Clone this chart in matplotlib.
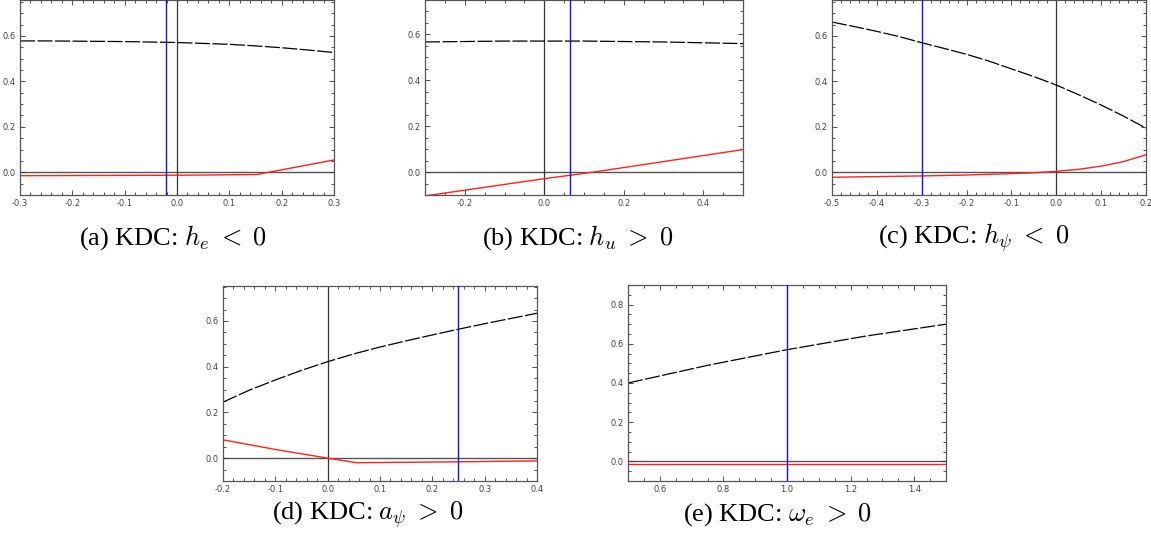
import matplotlib
matplotlib.use("Agg")
import matplotlib.pyplot as plt
from matplotlib.ticker import MultipleLocator, AutoMinorLocator, FormatStrFormatter

plt.rcParams['axes.unicode_minus'] = False
plt.rcParams['mathtext.fontset'] = 'cm'

# (a) h_e < 0
a_x = [-0.3, -0.25, -0.2, -0.15, -0.1, -0.05, 0.0, 0.05, 0.1, 0.15, 0.2, 0.25, 0.3]
a_dash = [0.578, 0.578, 0.577, 0.576, 0.575, 0.573, 0.571, 0.567, 0.563, 0.556, 0.548, 0.538, 0.527]
a_red_x = [-0.3, 0.0, 0.152, 0.3]
a_red = [-0.015, -0.013, -0.010, 0.054]
a_blue = -0.021

# (b) h_u > 0
b_x = [-0.3, -0.1, 0.1, 0.3, 0.5]
b_dash = [0.567, 0.571, 0.571, 0.567, 0.560]
b_red_x = [-0.3, 0.0, 0.125, 0.5]
b_red = [-0.104, -0.029, 0.0, 0.098]
b_blue = 0.066

# (c) h_psi < 0
c_x = [-0.5, -0.45, -0.4, -0.35, -0.3, -0.25, -0.2, -0.15, -0.1, -0.05, 0.0, 0.05, 0.1, 0.15, 0.2]
c_dash = [0.661, 0.641, 0.620, 0.597, 0.570, 0.545, 0.519, 0.489, 0.455, 0.421, 0.384, 0.341,
          0.296, 0.247, 0.194]
c_red_x = [-0.5, -0.4, -0.3, -0.2, -0.1, -0.05, 0.0, 0.05, 0.1, 0.15, 0.2]
c_red = [-0.022, -0.019, -0.016, -0.012, -0.006, -0.002, 0.004, 0.013, 0.027, 0.047, 0.077]
c_blue = -0.3

# (d) a_psi > 0
d_x = [-0.2, -0.15, -0.1, -0.05, 0.0, 0.05, 0.1, 0.15, 0.2, 0.25, 0.3, 0.35, 0.4]
d_dash = [0.245, 0.297, 0.342, 0.384, 0.422, 0.456, 0.486, 0.513, 0.539, 0.564, 0.588, 0.611, 0.634]
d_red_x = [-0.2, -0.1, 0.0, 0.055, 0.25, 0.4]
d_red = [0.080, 0.038, 0.0, -0.020, -0.016, -0.012]
d_blue = 0.25

# (e) omega_e > 0
e_x = [0.5, 0.75, 1.0, 1.25, 1.5]
e_dash = [0.40, 0.49, 0.570, 0.64, 0.70]
e_red_x = [0.5, 1.0, 1.5]
e_red = [-0.014, -0.014, -0.014]
e_blue = 1.0

captions = [r"(a) KDC: $h_e\;<\;0$", r"(b) KDC: $h_u\;>\;0$", r"(c) KDC: $h_\psi\;<\;0$",
            r"(d) KDC: $a_\psi\;>\;0$", r"(e) KDC: $\omega_e\;>\;0$"]

W, H = 1151, 541
fig = plt.figure(figsize=(W / 100, H / 100), dpi=100)


def panel(rect, xs, dash, rx, red, blue, xlim, ylim, xmaj, xminor, ymaj, cap, cap_xy):
    l, t, w, h = rect
    ax = fig.add_axes([l / W, 1 - (t + h) / H, w / W, h / H])
    ax.axhline(0, color='#555555', lw=1.0, zorder=1)
    if xlim[0] < 0 < xlim[1]:
        ax.axvline(0, color='#333333', lw=0.9, zorder=1)
    ax.axvline(blue, color='#1010ee', lw=1.0, zorder=3)
    ax.plot(xs, dash, color='black', lw=0.9, dashes=(12, 2), zorder=2)
    ax.plot(rx, red, color='#ff2020', lw=1.0, zorder=2)
    ax.set_xlim(*xlim)
    ax.set_ylim(*ylim)
    ax.xaxis.set_major_locator(MultipleLocator(xmaj))
    ax.xaxis.set_minor_locator(AutoMinorLocator(xminor))
    ax.yaxis.set_major_locator(MultipleLocator(ymaj))
    ax.yaxis.set_minor_locator(AutoMinorLocator(4))
    ax.xaxis.set_major_formatter(FormatStrFormatter('%.1f'))
    ax.yaxis.set_major_formatter(FormatStrFormatter('%.1f'))
    ax.tick_params(which='both', direction='in', top=True, right=True,
                   color='#333333', width=0.6, labelsize=6, labelcolor='#444444', pad=3)
    ax.tick_params(which='major', length=3.5)
    ax.tick_params(which='minor', length=2)
    for s in ax.spines.values():
        s.set_color('#555555')
        s.set_linewidth(0.9)
    fig.text(cap_xy[0] / W, 1 - cap_xy[1] / H, cap, ha='center', va='center',
             fontsize=19, family='Liberation Serif')
    return ax


panel((20, 0, 314, 195), a_x, a_dash, a_red_x, a_red, a_blue, (-0.3, 0.3), (-0.1, 0.758),
      0.1, 5, 0.2, captions[0], (173, 238))
panel((425, 0, 318, 195), b_x, b_dash, b_red_x, b_red, b_blue, (-0.3, 0.5), (-0.1, 0.75),
      0.2, 4, 0.2, captions[1], (578, 238))
panel((832, 0, 314, 195), c_x, c_dash, c_red_x, c_red, c_blue, (-0.5, 0.2), (-0.1, 0.758),
      0.1, 5, 0.2, captions[2], (974, 238))
panel((223, 286, 314, 195), d_x, d_dash, d_red_x, d_red, d_blue, (-0.2, 0.4), (-0.1, 0.753),
      0.1, 5, 0.2, captions[3], (368, 515))
panel((628, 285, 318, 196), e_x, e_dash, e_red_x, e_red, e_blue, (0.5, 1.5), (-0.1, 0.9),
      0.2, 4, 0.2, captions[4], (777, 515))

fig.savefig("out.png", dpi=100)
